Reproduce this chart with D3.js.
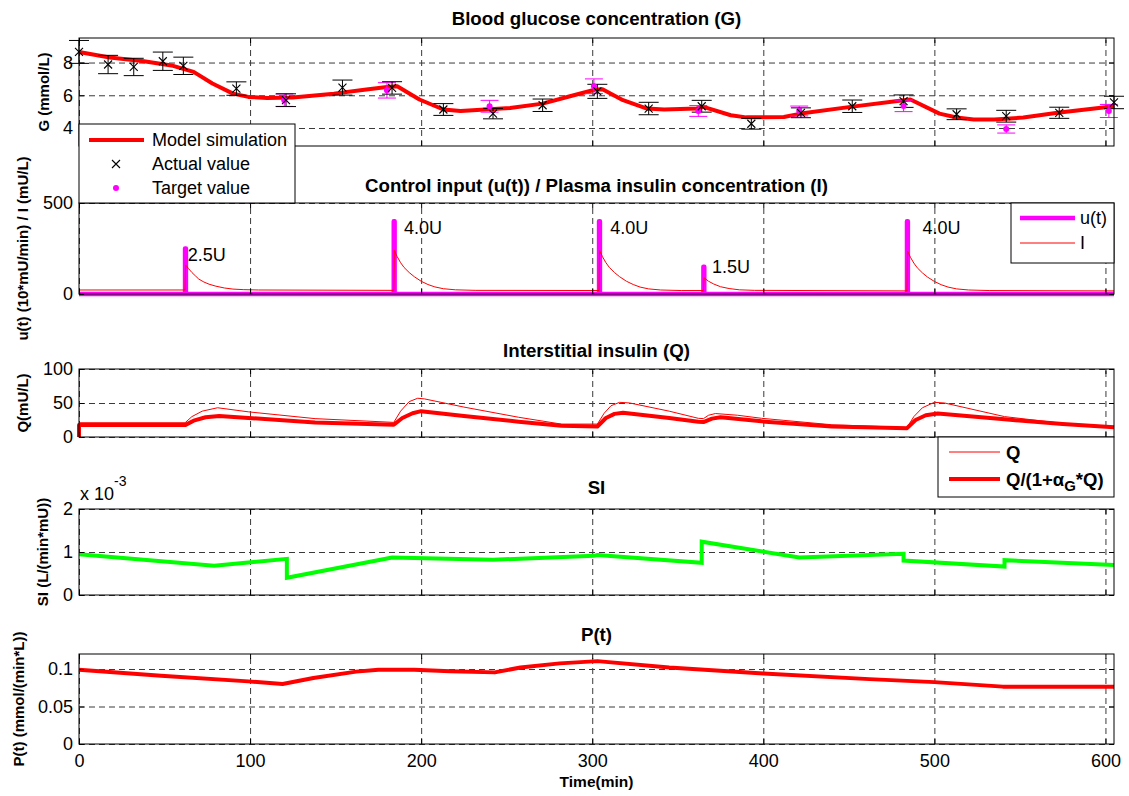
<!DOCTYPE html>
<html>
<head>
<meta charset="utf-8">
<script src="https://cdnjs.cloudflare.com/ajax/libs/d3/7.8.5/d3.min.js"></script>
<style>
  body { margin: 0; background: #fff; }
  text { font-family: Arial, "Liberation Sans", Helvetica, sans-serif; }
</style>
</head>
<body>
<div id="chart"></div>
<script>
// ---- data ----
const timeTicks = [0, 100, 200, 300, 400, 500, 600];

// blood glucose, model simulation [t, G]
const glucoseModel = [[0,8.65],[18,8.31],[38,8.08],[55,7.8],[67,7.43],[78,6.72],[90,6.1],[99,5.9],[110,5.84],
  [125,5.86],[149,6.1],[168,6.35],[180,6.5],[186,6.55],[199,5.74],[213,5.13],[223,5.04],[252,5.22],[271,5.49],
  [287,5.94],[302,6.35],[306,6.37],[318,5.7],[332,5.19],[342,5.13],[361,5.19],[365,5.29],[381,4.78],[390,4.65],
  [412,4.67],[422,4.88],[451,5.29],[482,5.7],[486,5.74],[503,4.88],[513,4.64],[523,4.52],[535,4.52],[552,4.64],
  [572,4.93],[605,5.33]];

const actualTime = [0, 17, 32, 49, 61, 92, 121, 154, 183, 213, 242, 271, 303, 333, 364, 393, 422, 452, 482, 513, 542, 573, 605];
const actualG    = [8.65, 7.88, 7.73, 8.08, 7.8, 6.41, 5.7, 6.47, 6.45, 5.13, 4.88, 5.39, 6.24, 5.19, 5.33, 4.26, 4.93, 5.33, 5.64, 4.84, 4.72, 4.93, 5.56];
const actualErr  = [0.7, 0.56, 0.53, 0.56, 0.53, 0.41, 0.39, 0.46, 0.38, 0.36, 0.32, 0.38, 0.43, 0.38, 0.36, 0.33, 0.3, 0.38, 0.38, 0.33, 0.36, 0.34, 0.38];

const targetTime = [120, 180, 240, 301, 362, 421, 482, 542, 602];
const targetG    = [5.7, 6.3, 5.33, 6.55, 5.04, 5.04, 5.35, 3.94, 5.04];
const targetErr  = [0.38, 0.47, 0.36, 0.45, 0.33, 0.3, 0.35, 0.25, 0.4];

// insulin boluses
const doseTime  = [62, 184, 304, 365, 484];
const doseRate  = [250, 400, 400, 150, 400];
const doseLabel = ["2.5U", "4.0U", "4.0U", "1.5U", "4.0U"];
const labelTime = [63.5, 190, 310.5, 370, 493];
const labelVal  = [215, 365, 365, 150, 365];

// plasma insulin I [t, mU/L]
const plasmaI = [[0,22],[62,22],[62.3,160],[64,140],[66,118],[68,100],[70,82],[73,66],[76,54],[80,43],[85,33],
  [90,27],[96,24],[105,22],[184,20],
  [184.3,240],[186,205],[188,172],[190,146],[193,118],[196,95],[200,70],[204,52],[208,39],[213,29],[220,23],[232,20],[304,19],
  [304.3,240],[306,205],[308,172],[310,146],[313,118],[316,95],[320,70],[324,52],[328,38],[333,28],[340,22],[352,19],[365,19],
  [365.3,90],[368,70],[371,55],[375,40],[380,30],[386,23],[395,20],[484,17],
  [484.3,236],[486,202],[488,170],[490,144],[493,116],[496,93],[500,69],[504,51],[508,38],[513,28],[520,22],[532,19],[605,17]];

// interstitial insulin Q and Q/(1+aG*Q)
const qThin = [[0,21],[62,21],[66,30],[72,38],[81,43],[99,37],[138,27],[184,21.5],[188,38],[193,52],[198,57],[202,56],
  [225,44],[257,29],[282,19],[303,19],[307,35],[311,46],[316,51],[322,50],[345,38],[362,27.5],[365,27],[368,32],
  [372,34.5],[385,32],[399,27.5],[440,18],[484,14],[488,30],[493,43],[500,51],[506,50],[541,30],[575,20],[605,15.5]];
const qEff = [[0,0],[0,17.5],[62,17.5],[67,24],[74,29],[82,31],[99,28],[138,21.5],[184,18],[189,28],[195,35],[200,38],
  [225,31],[257,22.5],[282,16.5],[303,15.5],[308,28],[313,34],[318,35.5],[345,28],[362,22.5],[365,22],[370,27],
  [375,29],[399,23],[440,15.5],[484,13],[489,25],[495,32],[502,34.5],[541,26],[575,19],[605,14.5]];

// insulin sensitivity SI (x 1e-3)
const siCurve = [[0,0.95],[79,0.68],[121.5,0.84],[121.5,0.40],[183,0.87],[242,0.82],[301,0.91],[303,0.93],[364,0.75],
  [364,1.24],[421,0.87],[482,0.96],[482,0.80],[541,0.66],[541,0.81],[605,0.70]];

// endogenous P(t)
const pCurve = [[0,0.099],[48,0.091],[99,0.0835],[119,0.080],[137,0.088],[162,0.0965],[175,0.099],[196,0.099],
  [217,0.097],[243,0.0955],[258,0.102],[281,0.1075],[303,0.1105],[345,0.102],[400,0.094],[462,0.0865],
  [500,0.0825],[540,0.0765],[605,0.0765]];

// ---- layout ----
const W = 1129, H = 796;
const X0 = 79, X1 = 1114;
const x = d3.scaleLinear().domain([0, 605]).range([X0, X1]);

const svg = d3.select("#chart").append("svg")
  .attr("width", W).attr("height", H)
  .style("background", "#fff");

function makePanel(p) {
  const y = d3.scaleLinear().domain(p.domain).range([p.bottom, p.top]);
  const g = svg.append("g");
  const grid = g.append("g");
  const data = g.append("g");
  const axes = g.append("g");

  // dashed grid
  grid.append("g").attr("transform", `translate(${X0},0)`)
    .call(d3.axisLeft(y).tickValues(p.ticks).tickSize(-(X1 - X0)).tickFormat(""))
    .call(s => { s.select(".domain").remove(); });
  grid.append("g").attr("transform", `translate(0,${p.bottom})`)
    .call(d3.axisBottom(x).tickValues(timeTicks).tickSize(-(p.bottom - p.top)).tickFormat(""))
    .call(s => { s.select(".domain").remove(); });
  grid.selectAll("line").attr("stroke", "#3a3a3a").attr("stroke-dasharray", "6,4").attr("stroke-width", 1);

  // inward ticks + labels
  axes.append("g").attr("transform", `translate(${X0},0)`)
    .call(d3.axisLeft(y).tickValues(p.ticks).tickSize(-5).tickPadding(6).tickFormat(p.fmt || d3.format("~g")));
  axes.append("g").attr("transform", `translate(${X1},0)`)
    .call(d3.axisRight(y).tickValues(p.ticks).tickSize(-5).tickFormat(""));
  axes.append("g").attr("transform", `translate(0,${p.top})`)
    .call(d3.axisTop(x).tickValues(timeTicks).tickSize(-5).tickFormat(""));
  axes.append("g").attr("transform", `translate(0,${p.bottom})`)
    .call(d3.axisBottom(x).tickValues(timeTicks).tickSize(-5).tickPadding(10).tickFormat(p.xLabels ? d3.format("d") : ""));
  axes.selectAll(".domain").remove();
  axes.selectAll("line").attr("stroke", "#000");
  axes.selectAll("text").attr("font-size", 18).attr("fill", "#000").attr("font-family", "Arial, 'Liberation Sans', sans-serif");

  axes.append("rect")
    .attr("x", X0).attr("y", p.top).attr("width", X1 - X0).attr("height", p.bottom - p.top)
    .attr("fill", "none").attr("stroke", "#000").attr("stroke-width", 1);

  // title
  svg.append("text").attr("x", (X0 + X1) / 2).attr("y", p.titleY)
    .attr("text-anchor", "middle").attr("dominant-baseline", "central")
    .attr("font-size", 18.7).attr("font-weight", "bold").text(p.title);

  // y label
  svg.append("text")
    .attr("transform", `translate(${p.labelX},${(p.top + p.bottom) / 2}) rotate(-90)`)
    .attr("text-anchor", "middle").attr("dominant-baseline", "central")
    .attr("font-size", 15).attr("font-weight", "bold").text(p.ylabel);

  return { y, data, g };
}

const line = (y) => d3.line().x(d => x(d[0])).y(d => y(d[1]));

// ---- panel 1: blood glucose ----
const pG = makePanel({ top: 38, bottom: 146, domain: [2.9, 9.5], ticks: [4, 6, 8],
  title: "Blood glucose concentration (G)", titleY: 18, ylabel: "G (mmol/L)", labelX: 43 });

pG.data.append("path").datum(glucoseModel).attr("d", line(pG.y))
  .attr("fill", "none").attr("stroke", "#ff0000").attr("stroke-width", 4).attr("stroke-linejoin", "round");

function errorBars(layer, ts, vs, es, color, cap) {
  const idx = d3.range(ts.length);
  const gb = layer.append("g").attr("stroke", color).attr("stroke-width", 1);
  gb.selectAll("line.v").data(idx).join("line")
    .attr("x1", i => x(ts[i])).attr("x2", i => x(ts[i]))
    .attr("y1", i => pG.y(vs[i] - es[i])).attr("y2", i => pG.y(vs[i] + es[i]));
  [-1, 1].forEach(sg => {
    gb.selectAll(null).data(idx).join("line")
      .attr("x1", i => x(ts[i]) - cap).attr("x2", i => x(ts[i]) + cap)
      .attr("y1", i => pG.y(vs[i] + sg * es[i])).attr("y2", i => pG.y(vs[i] + sg * es[i]));
  });
}
errorBars(pG.data, targetTime, targetG, targetErr, "#ff00ff", 9);
errorBars(pG.data, actualTime, actualG, actualErr, "#000", 10);

pG.data.selectAll("circle.target").data(d3.range(targetTime.length)).join("circle")
  .attr("cx", i => x(targetTime[i])).attr("cy", i => pG.y(targetG[i])).attr("r", 3).attr("fill", "#ff00ff");

const cross = (cx, cy, s) => `M${cx - s},${cy - s}L${cx + s},${cy + s}M${cx - s},${cy + s}L${cx + s},${cy - s}`;
pG.data.selectAll("path.actual").data(d3.range(actualTime.length)).join("path")
  .attr("d", i => cross(x(actualTime[i]), pG.y(actualG[i]), 4))
  .attr("stroke", "#000").attr("stroke-width", 1.1).attr("fill", "none");

// ---- panel 2: control input / plasma insulin ----
const pU = makePanel({ top: 203, bottom: 294, domain: [0, 500], ticks: [0, 500],
  title: "Control input (u(t)) / Plasma insulin concentration (I)", titleY: 185,
  ylabel: "u(t) (10*mU/min) / I (mU/L)", labelX: 22 });

const uSeries = [[0, 0]];
doseTime.forEach((t, i) => { uSeries.push([t, 0], [t, doseRate[i]], [t + 0.5, doseRate[i]], [t + 0.5, 0]); });
uSeries.push([605, 0]);

pU.data.append("path").datum(uSeries).attr("d", line(pU.y))
  .attr("fill", "none").attr("stroke", "#ff00ff").attr("stroke-width", 4.5).attr("stroke-linejoin", "round");
pU.data.append("path").datum(plasmaI).attr("d", line(pU.y))
  .attr("fill", "none").attr("stroke", "#ff0000").attr("stroke-width", 1);
pU.data.selectAll("text.dose").data(d3.range(doseLabel.length)).join("text")
  .attr("x", i => x(labelTime[i])).attr("y", i => pU.y(labelVal[i]))
  .attr("dominant-baseline", "central").attr("font-size", 18).text(i => doseLabel[i]);

// ---- panel 3: interstitial insulin ----
const pQ = makePanel({ top: 369, bottom: 437, domain: [0, 100], ticks: [0, 50, 100],
  title: "Interstitial insulin (Q)", titleY: 350, ylabel: "Q(mU/L)", labelX: 22 });
pQ.data.append("path").datum(qThin).attr("d", line(pQ.y))
  .attr("fill", "none").attr("stroke", "#ff0000").attr("stroke-width", 1);
pQ.data.append("path").datum(qEff).attr("d", line(pQ.y))
  .attr("fill", "none").attr("stroke", "#ff0000").attr("stroke-width", 4).attr("stroke-linejoin", "round");

// ---- panel 4: SI ----
const pS = makePanel({ top: 509, bottom: 595, domain: [0, 2], ticks: [0, 1, 2],
  title: "SI", titleY: 487, ylabel: "SI (L/(min*mU))", labelX: 42 });
pS.data.append("path").datum(siCurve).attr("d", line(pS.y))
  .attr("fill", "none").attr("stroke", "#00ff00").attr("stroke-width", 4).attr("stroke-linejoin", "miter");
const expo = svg.append("text").attr("x", 80).attr("y", 500).attr("font-size", 18);
expo.append("tspan").text("x 10");
expo.append("tspan").attr("dy", -14).attr("font-size", 14).text("-3");

// ---- panel 5: P(t) ----
const pP = makePanel({ top: 654, bottom: 744, domain: [0, 0.12], ticks: [0, 0.05, 0.1],
  title: "P(t)", titleY: 634, ylabel: "P(t) (mmol/(min*L))", labelX: 18, xLabels: true });
pP.data.append("path").datum(pCurve).attr("d", line(pP.y))
  .attr("fill", "none").attr("stroke", "#ff0000").attr("stroke-width", 4).attr("stroke-linejoin", "round");

svg.append("text").attr("x", (X0 + X1) / 2).attr("y", 787)
  .attr("text-anchor", "middle").attr("font-size", 15.5).attr("font-weight", "bold").text("Time(min)");

// ---- legends ----
const lg1 = svg.append("g");
lg1.append("rect").attr("x", 79).attr("y", 124).attr("width", 216).attr("height", 79)
  .attr("fill", "#fff").attr("stroke", "#000");
lg1.append("line").attr("x1", 89).attr("x2", 144).attr("y1", 140).attr("y2", 140)
  .attr("stroke", "#ff0000").attr("stroke-width", 4);
lg1.append("path").attr("d", cross(116, 164, 4)).attr("stroke", "#000").attr("stroke-width", 1.1);
lg1.append("circle").attr("cx", 116).attr("cy", 188).attr("r", 3).attr("fill", "#ff00ff");
[["Model simulation", 140], ["Actual value", 164], ["Target value", 188]].forEach(([t, yy]) => {
  lg1.append("text").attr("x", 152).attr("y", yy).attr("dominant-baseline", "central")
    .attr("font-size", 18).text(t);
});

const lg2 = svg.append("g");
lg2.append("rect").attr("x", 1011).attr("y", 203).attr("width", 103).attr("height", 60)
  .attr("fill", "#fff").attr("stroke", "#000");
lg2.append("line").attr("x1", 1020).attr("x2", 1075).attr("y1", 218).attr("y2", 218)
  .attr("stroke", "#ff00ff").attr("stroke-width", 4.5);
lg2.append("line").attr("x1", 1020).attr("x2", 1075).attr("y1", 243).attr("y2", 243)
  .attr("stroke", "#ff0000").attr("stroke-width", 1);
[["u(t)", 218], ["I", 243]].forEach(([t, yy]) => {
  lg2.append("text").attr("x", 1080).attr("y", yy).attr("dominant-baseline", "central")
    .attr("font-size", 18).text(t);
});

const lg3 = svg.append("g");
lg3.append("rect").attr("x", 938).attr("y", 437).attr("width", 176).attr("height", 60)
  .attr("fill", "#fff").attr("stroke", "#000");
lg3.append("line").attr("x1", 949).attr("x2", 1000).attr("y1", 452).attr("y2", 452)
  .attr("stroke", "#ff0000").attr("stroke-width", 1);
lg3.append("line").attr("x1", 949).attr("x2", 1000).attr("y1", 479).attr("y2", 479)
  .attr("stroke", "#ff0000").attr("stroke-width", 4);
lg3.append("text").attr("x", 1006).attr("y", 452).attr("dominant-baseline", "central")
  .attr("font-size", 18.5).attr("font-weight", "bold").text("Q");
const qLab = lg3.append("text").attr("x", 1006).attr("y", 479).attr("dominant-baseline", "central")
  .attr("font-size", 18.5).attr("font-weight", "bold");
qLab.append("tspan").text("Q/(1+α");
qLab.append("tspan").attr("dy", 6).attr("font-size", 15).text("G");
qLab.append("tspan").attr("dy", -6).text("*Q)");
</script>
</body>
</html>
